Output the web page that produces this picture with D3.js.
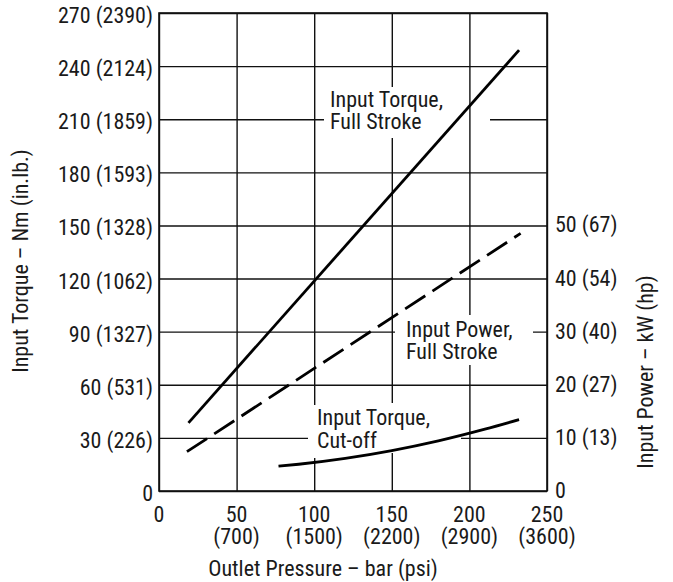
<!DOCTYPE html>
<html><head><meta charset="utf-8">
<script src="https://cdn.jsdelivr.net/npm/d3@7"></script>
<style>
html,body{margin:0;padding:0;background:#fff;}
svg{display:block;}
text{font-family:"Liberation Sans Narrow","Arial Narrow","Roboto Condensed","DejaVu Sans Condensed",sans-serif;font-size:22px;fill:#1a1a1a;}
</style></head><body>
<svg id="chart" width="673" height="582"></svg>
<script>
// ---- data ----
const pressureTicks = [0, 50, 100, 150, 200, 250];               // bar
const pressurePsiLabels = ["", "(700)", "(1500)", "(2200)", "(2900)", "(3600)"];
const torqueTicks = [0, 30, 60, 90, 120, 150, 180, 210, 240, 270]; // Nm
const torqueInLbLabels = ["", "(226)", "(531)", "(1327)", "(1062)", "(1328)", "(1593)", "(1859)", "(2124)", "(2390)"];
const powerTicks = [0, 10, 20, 30, 40, 50];                      // kW
const powerHpLabels = ["", "(13)", "(27)", "(40)", "(54)", "(67)"];

const torqueFullStroke = [[19, 38.5], [232, 249]];               // [bar, Nm]
const powerFullStroke = [[18, 7.4], [233, 48.5]];                // [bar, kW]
const torqueCutoff = [[77, 14], [90, 15.1], [120, 18.4], [150, 22.8], [180, 28.3], [210, 34.9], [232, 40.3]]; // [bar, Nm]

const seriesNames = [["Input Torque,", "Full Stroke"], ["Input Power,", "Full Stroke"], ["Input Torque,", "Cut-off"]];

// ---- layout ----
const svg = d3.select("#chart");
const L = 159, R = 547, T = 13, B = 491;
const x = d3.scaleLinear().domain([0, 250]).range([L, R]);
const y = d3.scaleLinear().domain([0, 270]).range([B, T]);
const yP = d3.scaleLinear().domain([0, 90]).range([B, T]); // power axis (kW), 50 kW aligns with 150 Nm

// horizontal gridlines
const gH = svg.append("g").attr("transform", `translate(${L},0)`)
  .call(d3.axisLeft(y).tickValues(torqueTicks).tickSize(-(R - L)).tickFormat(""));
gH.select(".domain").remove();
gH.selectAll("line").attr("stroke", "#111").attr("stroke-width", 1.4);

// gaps in horizontal gridlines around annotations
const hGaps = [[210, 324, 490], [90, 395, 533], [30, 308, 461]];
svg.selectAll("rect.hgap").data(hGaps).join("rect")
  .attr("x", d => d[1]).attr("width", d => d[2] - d[1])
  .attr("y", d => y(d[0]) - 3).attr("height", 6).attr("fill", "#fff");

// vertical gridlines
const gV = svg.append("g").attr("transform", `translate(0,${B})`)
  .call(d3.axisBottom(x).tickValues(pressureTicks).tickSize(-(B - T)).tickFormat(""));
gV.select(".domain").remove();
gV.selectAll("line").attr("stroke", "#111").attr("stroke-width", 1.4);

const vGaps = [[150, 87, 138], [200, 315, 365], [100, 405, 458], [150, 403, 453]];
svg.selectAll("rect.vgap").data(vGaps).join("rect")
  .attr("x", d => x(d[0]) - 3).attr("width", 6)
  .attr("y", d => d[1]).attr("height", d => d[2] - d[1]).attr("fill", "#fff");

// frame
svg.append("rect").attr("x", L).attr("y", T).attr("width", R - L).attr("height", B - T)
  .attr("fill", "none").attr("stroke", "#111").attr("stroke-width", 1.6);

// left tick labels
svg.append("g").selectAll("text").data(torqueTicks).join("text")
  .attr("x", 153).attr("y", d => y(d) + 10).attr("text-anchor", "end")
  .text((d, i) => torqueInLbLabels[i] ? `${d} ${torqueInLbLabels[i]}` : `${d}`);

// right tick labels
svg.append("g").selectAll("text").data(powerTicks).join("text")
  .attr("x", 555).attr("y", d => yP(d) + 7).attr("text-anchor", "start")
  .text((d, i) => powerHpLabels[i] ? `${d} ${powerHpLabels[i]}` : `${d}`);

// bottom tick labels (value line + psi line)
svg.append("g").selectAll("text").data(pressureTicks).join("text")
  .attr("text-anchor", "middle").attr("x", d => x(d)).attr("y", 521.5).text(d => d);
svg.append("g").selectAll("text").data(pressureTicks).join("text")
  .attr("text-anchor", "middle").attr("x", d => x(d)).attr("y", 543.5)
  .text((d, i) => pressurePsiLabels[i]);

// axis titles
svg.append("text").attr("transform", "translate(28,261) rotate(-90)").attr("text-anchor", "middle")
  .text("Input Torque – Nm (in.lb.)");
svg.append("text").attr("transform", "translate(653,372) rotate(-90)").attr("text-anchor", "middle")
  .text("Input Power – kW (hp)");
svg.append("text").attr("x", 323).attr("y", 576).attr("text-anchor", "middle")
  .text("Outlet Pressure – bar (psi)");

// series
const lineT = d3.line().x(d => x(d[0])).y(d => y(d[1]));
const lineP = d3.line().x(d => x(d[0])).y(d => yP(d[1]));
const lineC = d3.line().x(d => x(d[0])).y(d => y(d[1])).curve(d3.curveMonotoneX);

svg.append("path").datum(torqueFullStroke).attr("d", lineT)
  .attr("fill", "none").attr("stroke", "#000").attr("stroke-width", 2.8);
svg.append("path").datum(powerFullStroke).attr("d", lineP)
  .attr("fill", "none").attr("stroke", "#000").attr("stroke-width", 2.8)
  .attr("stroke-dasharray", "24,8.6");
svg.append("path").datum(torqueCutoff).attr("d", lineC)
  .attr("fill", "none").attr("stroke", "#000").attr("stroke-width", 2.8);

// annotations
const annPos = [[330, 106.5], [406, 336.5], [317, 425]];
seriesNames.forEach((lines, i) => {
  const t = svg.append("text").attr("x", annPos[i][0]).attr("y", annPos[i][1]);
  lines.forEach((s, j) => t.append("tspan").attr("x", annPos[i][0]).attr("dy", j ? 22.5 : 0).text(s));
});
</script>
</body></html>
